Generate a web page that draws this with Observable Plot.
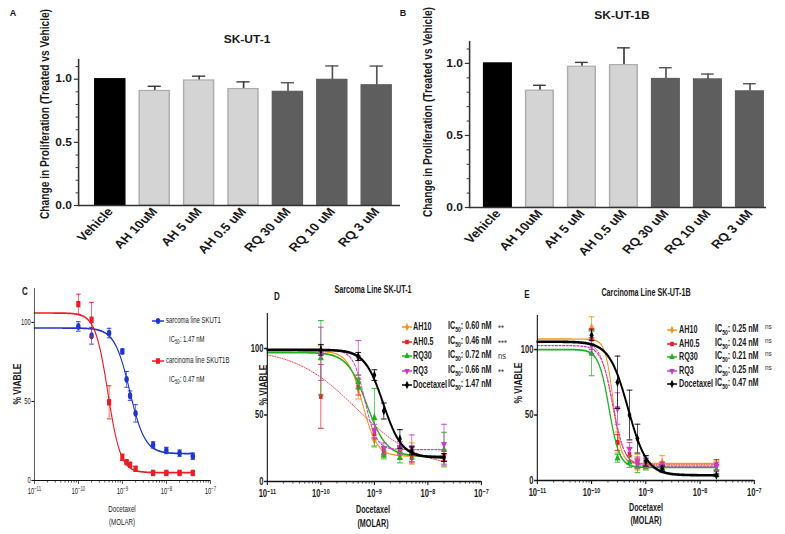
<!DOCTYPE html>
<html><head><meta charset="utf-8">
<script src="https://cdn.jsdelivr.net/npm/d3@7"></script>
<script src="https://cdn.jsdelivr.net/npm/@observablehq/plot@0.6"></script>
<style>
body{margin:0;background:#fff;}
#fig{position:relative;width:785px;height:534px;overflow:hidden;font-family:"Liberation Sans",Arial,sans-serif;background:#fff;color:#1a1a1a}
.t{position:absolute;white-space:nowrap;line-height:1;}
.sub{font-size:0.7em;vertical-align:-0.35em;}
.sup{font-size:0.75em;vertical-align:0.45em;}
</style></head><body><div id="fig"></div><script>
// ---------------- DATA ----------------
const barCategories = ["Vehicle","AH 10uM","AH 5 uM","AH 0.5 uM","RQ 30 uM","RQ 10 uM","RQ 3 uM"];
const barGroups = ["Vehicle","AH","AH","AH","RQ","RQ","RQ"];
const skut1Mean = [1.0, 0.907, 0.99, 0.922, 0.90, 0.995, 0.952];
const skut1Err  = [0, 0.037, 0.034, 0.057, 0.072, 0.11, 0.152];
const skut1bMean = [1.0, 0.811, 0.977, 0.988, 0.892, 0.889, 0.806];
const skut1bErr  = [0, 0.037, 0.03, 0.12, 0.078, 0.037, 0.053];
const barYTicks = [0, 0.5, 1.0];
const barYMinorTicks = [0.1, 0.2, 0.3, 0.4, 0.6, 0.7, 0.8, 0.9, 1.1];

const decadeTicks = [1e-11, 1e-10, 1e-9, 1e-8, 1e-7];
const minorMultipliers = [2, 3, 4, 5, 6, 7, 8, 9];
const doseYTicks = [0, 50, 100];

// Panel C
const cDoses = [1e-10, 2e-10, 5e-10, 1e-9, 1.25e-9, 1.5e-9, 2e-9, 5e-9, 1e-8, 2e-8, 4e-8];
const cSarcomaMean = [97.5, 91.6, 93.3, 81.7, 64, 53.7, 42.5, 22.5, 19, 17.3, 15.4];
const cSarcomaErr  = [3, 5.3, 3, 1.5, 5, 3, 5.5, 2, 2, 2, 2];
const cCarcinomaMean = [111.6, 101.7, 49.5, 14.7, 11.6, 10, 7.4, 4.8, 4.8, 4.8, 4.8];
const cCarcinomaErr  = [6.3, 11, 10.5, 2, 1, 1, 1.5, 1, 1, 1, 1];
const cSarcomaFit = {top: 96.5, bottom: 17, ic50: 1.47e-9, hill: 2.5};
const cCarcinomaFit = {top: 106, bottom: 5, ic50: 0.47e-9, hill: 3};

// Panel D (Sarcoma SK-UT-1)
const dDoses = [1e-10, 5e-10, 1e-9, 1.5e-9, 3e-9, 5e-9, 2e-8];
const dAH10Mean = [97, 70, 31, 21, 20, 21, 16];
const dAH10Err  = [5, 8, 4, 3, 3, 8, 4];
const dAH05Mean = [64, 71, 36, 23, 24, 18, 19.6];
const dAH05Err  = [24, 6, 4, 3, 3, 4, 4];
const dRQ30Mean = [93, 75, 48, 20, 18, 22, 24];
const dRQ30Err  = [28, 5, 22, 3, 4, 5, 13];
const dRQ3Mean  = [96, 93, 38, 25, 25, 25, 28];
const dRQ3Err   = [20, 13, 5, 4, 5, 10, 15];
const dDocMean  = [99, 94, 80, 53, 32, 23, 18];
const dDocErr   = [4, 3, 4, 6, 7, 3, 3];
const dFits = {
  AH10: {top: 98, bottom: 19, ic50: 0.60e-9, hill: 3.2},
  AH05: {top: 100, bottom: 10, ic50: 0.46e-9, hill: 0.75},
  RQ30: {top: 97, bottom: 19, ic50: 0.72e-9, hill: 2.4},
  RQ3:  {top: 99, bottom: 24, ic50: 0.66e-9, hill: 4},
  Doc:  {top: 99, bottom: 18, ic50: 1.47e-9, hill: 2.5}
};
const dIC50 = ["0.60", "0.46", "0.72", "0.66", "1.47"];
const dSig = ["**", "***", "ns", "**", ""];

// Panel E (Carcinoma SK-UT-1B)
const eDoses = [1e-10, 3e-10, 5e-10, 7e-10, 1e-9, 2e-9, 2e-8];
const eAH10Mean = [117, 29, 19, 14, 15, 14, 11];
const eAH10Err  = [8, 8, 6, 6, 4, 5, 4];
const eAH05Mean = [108, 29, 20, 13, 13, 11, 12];
const eAH05Err  = [8, 6, 5, 4, 4, 3, 4];
const eRQ30Mean = [97, 17, 14, 11, 11, 9, 8];
const eRQ30Err  = [17, 3, 4, 5, 3, 3, 4];
const eRQ3Mean  = [103, 55, 24, 14, 14, 11, 11];
const eRQ3Err   = [6, 12, 5, 4, 3, 3, 3];
const eDocMean  = [111, 75, 50, 32, 15, 9, 4];
const eDocErr   = [4, 20, 19, 11, 4, 2, 1];
const eFits = {
  AH10: {top: 108, bottom: 13, ic50: 0.25e-9, hill: 6},
  AH05: {top: 106, bottom: 12, ic50: 0.24e-9, hill: 4},
  RQ30: {top: 100, bottom: 10, ic50: 0.21e-9, hill: 4.5},
  RQ3:  {top: 103, bottom: 11, ic50: 0.25e-9, hill: 4},
  Doc:  {top: 106, bottom: 4, ic50: 0.47e-9, hill: 2.5}
};
const eIC50 = ["0.25", "0.24", "0.21", "0.25", "0.47"];
const eSig = ["ns", "ns", "ns", "ns", ""];

const seriesNames = ["AH10", "AH0.5", "RQ30", "RQ3", "Docetaxel"];

// ---------------- HELPERS ----------------
const fig = document.getElementById("fig");
const FONT = "Liberation Sans, Arial, sans-serif";
const triangleDown = {draw(ctx, size) {
  const h = Math.sqrt(size / (3 * Math.sqrt(3)));
  ctx.moveTo(0, 2 * h); ctx.lineTo(Math.sqrt(3) * h, -h); ctx.lineTo(-Math.sqrt(3) * h, -h); ctx.closePath();
}};
const capSymbol = {draw(ctx, size) {
  const w = Math.sqrt(size / Math.PI);
  ctx.moveTo(-w, 0); ctx.lineTo(w, 0);
}};
const colors = {orange: "#f7941d", red: "#ec1c24", green: "#22b022", purple: "#c83cc8", black: "#000000", blue: "#1f35d0"};

const powFmt = d => { const e = Math.round(Math.log10(d)); return "10^" + (e < 0 ? "\u2212" : "") + Math.abs(e); };
const minorTicks = decadeTicks.slice(0, -1).flatMap(d => minorMultipliers.map(m => d * m));

function richify(svg) {
  d3.select(svg).selectAll("text").each(function() {
    const t = this.textContent;
    if (!t || !t.includes("^")) return;
    const [base, sup] = t.split("^");
    const sel = d3.select(this);
    sel.text(null);
    sel.append("tspan").text(base);
    sel.append("tspan").attr("dy", "-0.45em").attr("font-size", "0.72em").text(sup);
  });
}

function place(svg, left, top, w, h) {
  svg.setAttribute("preserveAspectRatio", "none");
  svg.style.position = "absolute";
  svg.style.left = left + "px";
  svg.style.top = top + "px";
  svg.style.width = w + "px";
  svg.style.height = h + "px";
  svg.style.maxWidth = "none";
  svg.style.overflow = "visible";
  fig.appendChild(svg);
}

function addText(html, x, y, o = {}) {
  const el = document.createElement("div");
  el.className = "t";
  el.innerHTML = html;
  el.style.fontSize = (o.size || 10) + "px";
  el.style.fontWeight = o.weight || "normal";
  el.style.color = o.color || "#1a1a1a";
  el.style.left = x + "px"; el.style.top = y + "px";
  const sx = o.sx || 1, rot = o.rotate || 0, anchor = o.anchor || "middle";
  const tx = anchor === "start" ? "0" : anchor === "end" ? "-100%" : "-50%";
  el.style.transformOrigin = anchor === "start" ? "0 50%" : anchor === "end" ? "100% 50%" : "50% 50%";
  el.style.transform = `translate(${tx}, -50%) scale(${sx}, 1) rotate(${rot}deg)`;
  fig.appendChild(el);
}

function legendSymbol(x, y, color, symbolType, o = {}) {
  const L = o.len || 12, size = o.size || 22, sx = o.sx || 1;
  const svg = d3.create("svg").attr("width", L + 4).attr("height", 12)
    .style("position", "absolute").style("left", (x - (L + 4) / 2) + "px").style("top", (y - 6) + "px")
    .style("overflow", "visible");
  svg.append("line").attr("x1", 2).attr("x2", L + 2).attr("y1", 6).attr("y2", 6)
    .attr("stroke", color).attr("stroke-width", o.lw || 1.5);
  svg.append("path").attr("d", d3.symbol(symbolType, size)())
    .attr("transform", `translate(${(L + 4) / 2},6) scale(${sx},1)`).attr("fill", color);
  fig.appendChild(svg.node());
}

// ---------------- BAR PANELS ----------------
function barPanel(cfg) {
  const {left, top, dispW, dispH, s, marginLeft, marginRight, marginTop, marginBottom, xRange, yMax, means, errs, capInset} = cfg;
  const natW = dispW / s;
  const data = barCategories.map((c, i) => ({cat: c, group: barGroups[i], mean: means[i], err: errs[i]}));
  const styles = {
    Vehicle: {fill: "#000000", stroke: "#000000", err: "#000000"},
    AH: {fill: "#d4d4d4", stroke: "#acacac", err: "#3c3c3c"},
    RQ: {fill: "#5e5e5e", stroke: "#5e5e5e", err: "#555555"}
  };
  const marks = [];
  for (const g of ["Vehicle", "AH", "RQ"]) {
    const sub = data.filter(d => d.group === g);
    const st = styles[g];
    const withErr = sub.filter(d => d.err > 0);
    marks.push(Plot.ruleX(withErr, {x: "cat", y1: "mean", y2: d => d.mean + d.err, stroke: st.err, strokeWidth: 1.4}));
    marks.push(Plot.tickY(withErr, {x: "cat", y: d => d.mean + d.err, stroke: st.err, strokeWidth: 1.4, insetLeft: capInset, insetRight: capInset}));
    marks.push(Plot.barY(sub, {x: "cat", y: "mean", fill: st.fill, stroke: st.stroke, strokeWidth: 1.2}));
  }
  marks.push(
    Plot.axisY({ticks: barYTicks, tickFormat: ".1f", tickSize: 3.5, tickPadding: 2, fontSize: 10, fontWeight: "bold", label: null, stroke: "#333", strokeWidth: 1.2}),
    Plot.axisY({ticks: barYMinorTicks, tickFormat: () => "", tickSize: 2, label: null, stroke: "#333", strokeWidth: 1}),
    Plot.axisX({tickRotate: -50, tickSize: 0, tickPadding: 4, fontSize: 11.5, fontWeight: "bold", label: null}),
    Plot.frame({anchor: "left", stroke: "#333", strokeWidth: 1.3}),
    Plot.ruleY([0], {stroke: "#333", strokeWidth: 1.4})
  );
  const svg = Plot.plot({
    width: natW, height: dispH, marginLeft, marginRight, marginTop, marginBottom,
    style: {fontFamily: FONT, background: "transparent", color: "#1a1a1a", overflow: "visible"},
    x: {domain: barCategories, range: xRange, paddingInner: 1 / 3, paddingOuter: 1 / 6},
    y: {domain: [0, yMax]},
    marks
  });
  place(svg, left, top, dispW, dispH);
}

barPanel({left: 0, top: 0, dispW: 400, dispH: 280, s: 1.2, marginLeft: 65, marginRight: 0, marginTop: 59, marginBottom: 75,
  xRange: [71.25, 333.75], yMax: 1.156, means: skut1Mean, errs: skut1Err, capInset: 7});
barPanel({left: 390, top: 0, dispW: 395, dispH: 280, s: 1.2, marginLeft: 65.83, marginRight: 15.83, marginTop: 41, marginBottom: 73,
  xRange: [71.67, 316.67], yMax: 1.152, means: skut1bMean, errs: skut1bErr, capInset: 6.2});

// ---------------- DOSE-RESPONSE PANELS ----------------
function curveFor(p, xEnd) {
  const lo = -11, hi = Math.log10(xEnd), n = 200;
  return d3.range(n + 1).map(i => {
    const x = Math.pow(10, lo + (hi - lo) * i / n);
    return {x, y: p.bottom + (p.top - p.bottom) / (1 + Math.pow(x / p.ic50, p.hill))};
  });
}

function dosePanel(cfg) {
  const {left, top, dispW, dispH, c, marginLeft, marginRight, marginTop, marginBottom, yMax, doses, series, xEnd,
         tickSize, tickWeight, axisWidth, capR, xPad} = cfg;
  const natW = dispW / c;
  const marks = [];
  for (const s of series) {
    const pts = s.mean.map((m, i) => ({dose: doses[i], mean: m, err: s.err[i]}));
    marks.push(Plot.line(curveFor(s.fit, xEnd), {x: "x", y: "y", stroke: s.color, strokeWidth: s.lw, strokeDasharray: s.dash}));
    marks.push(Plot.ruleX(pts, {x: "dose", y1: d => d.mean - d.err, y2: d => d.mean + d.err, stroke: s.color, strokeWidth: 1.2, strokeOpacity: 0.8}));
    marks.push(Plot.dot(pts, {x: "dose", y: d => d.mean + d.err, symbol: capSymbol, r: capR, stroke: s.color, fill: "none", strokeWidth: 1.1, strokeOpacity: 0.85}));
    marks.push(Plot.dot(pts, {x: "dose", y: d => d.mean - d.err, symbol: capSymbol, r: capR, stroke: s.color, fill: "none", strokeWidth: 1.1, strokeOpacity: 0.85}));
    marks.push(Plot.dot(pts, {x: "dose", y: "mean", symbol: s.symbol, r: s.r, fill: s.color, stroke: "none"}));
  }
  marks.push(
    Plot.axisX({ticks: decadeTicks, tickFormat: powFmt, tickSize: 4, tickPadding: xPad, fontSize: tickSize, fontWeight: tickWeight, label: null, strokeWidth: axisWidth}),
    Plot.axisX({ticks: minorTicks, tickFormat: () => "", tickSize: 2.5, label: null, strokeWidth: 0.9}),
    Plot.axisY({ticks: doseYTicks, tickSize: 4, tickPadding: 1.5, fontSize: tickSize, fontWeight: tickWeight, label: null, strokeWidth: axisWidth}),
    Plot.ruleX([1e-11], {stroke: "#111", strokeWidth: axisWidth}),
    Plot.ruleY([0], {stroke: "#111", strokeWidth: axisWidth})
  );
  const svg = Plot.plot({
    width: natW, height: dispH, marginLeft, marginRight, marginTop, marginBottom,
    style: {fontFamily: FONT, background: "transparent", color: "#1a1a1a", overflow: "visible"},
    x: {type: "log", domain: [1e-11, 1e-7]},
    y: {domain: [0, yMax]},
    marks
  });
  richify(svg);
  place(svg, left, top, dispW, dispH);
}

dosePanel({left: 0, top: 280, dispW: 250, dispH: 254, c: 0.65, marginLeft: 52.3, marginRight: 61.5, marginTop: 8, marginBottom: 54,
  yMax: 121.5, doses: cDoses, xEnd: 4e-8, tickSize: 9, tickWeight: "normal", axisWidth: 1.1, capR: 3.5, xPad: 3,
  series: [
    {mean: cSarcomaMean, err: cSarcomaErr, fit: cSarcomaFit, color: colors.blue, symbol: "circle", r: 3.4, lw: 1.7},
    {mean: cCarcinomaMean, err: cCarcinomaErr, fit: cCarcinomaFit, color: colors.red, symbol: "square", r: 3.6, lw: 1.7}
  ]});

function doseSeries(means, errs, fits) {
  return [
    {mean: means[0], err: errs[0], fit: fits.AH10, color: colors.orange, symbol: "diamond", r: 2.8, lw: 1.4},
    {mean: means[1], err: errs[1], fit: fits.AH05, color: colors.red, symbol: "square", r: 2.8, lw: 1, dash: "1.5,2"},
    {mean: means[2], err: errs[2], fit: fits.RQ30, color: colors.green, symbol: "triangle", r: 3, lw: 1.8},
    {mean: means[3], err: errs[3], fit: fits.RQ3, color: colors.purple, symbol: triangleDown, r: 3, lw: 1.3, dash: "3,2"},
    {mean: means[4], err: errs[4], fit: fits.Doc, color: colors.black, symbol: "diamond", r: 2.8, lw: 2.6}
  ];
}

dosePanel({left: 235, top: 280, dispW: 285, dispH: 254, c: 0.72, marginLeft: 44.4, marginRight: 54.1, marginTop: 33, marginBottom: 53,
  yMax: 126.3, doses: dDoses, xEnd: 2e-8, tickSize: 10.5, tickWeight: "bold", axisWidth: 1.5, capR: 4, xPad: 4.5,
  series: doseSeries([dAH10Mean, dAH05Mean, dRQ30Mean, dRQ3Mean, dDocMean], [dAH10Err, dAH05Err, dRQ30Err, dRQ3Err, dDocErr], dFits)});

dosePanel({left: 505, top: 280, dispW: 280, dispH: 254, c: 0.72, marginLeft: 44.4, marginRight: 43.1, marginTop: 35, marginBottom: 54,
  yMax: 126, doses: eDoses, xEnd: 2e-8, tickSize: 10.5, tickWeight: "bold", axisWidth: 1.5, capR: 4, xPad: 4.5,
  series: doseSeries([eAH10Mean, eAH05Mean, eRQ30Mean, eRQ3Mean, eDocMean], [eAH10Err, eAH05Err, eRQ30Err, eRQ3Err, eDocErr], eFits)});

// ---------------- TEXT: letters, titles, axis labels ----------------
addText("A", 13, 13, {size: 9, weight: "bold"});
addText("B", 403, 13, {size: 9, weight: "bold"});
addText("C", 25, 292, {size: 10, weight: "bold", sx: 0.8});
addText("D", 277, 297, {size: 10, weight: "bold", sx: 0.8});
addText("E", 527, 295, {size: 10, weight: "bold", sx: 0.8});

addText("SK-UT-1", 247, 40, {size: 10, weight: "bold", sx: 1.2});
addText("SK-UT-1B", 622, 16, {size: 10, weight: "bold", sx: 1.2});
addText("Change in Proliferation (Treated vs Vehicle)", 45, 114, {size: 10.2, weight: "bold", rotate: -90, sx: 1.25});
addText("Change in Proliferation (Treated vs Vehicle)", 428, 112, {size: 10.2, weight: "bold", rotate: -90, sx: 1.25});

addText("Sarcoma Line SK-UT-1", 373, 290, {size: 10, weight: "bold", sx: 0.72});
addText("Carcinoma Line SK-UT-1B", 646, 293, {size: 10, weight: "bold", sx: 0.72});

addText("% VIABLE", 17, 384, {size: 8.5, weight: "bold", rotate: -90, sx: 1.3});
addText("% VIABLE", 263, 385, {size: 8.5, weight: "bold", rotate: -90, sx: 1.3});
addText("% VIABLE", 518, 383, {size: 8.5, weight: "bold", rotate: -90, sx: 1.3});

addText("Docetaxel", 122, 509, {size: 9.5, sx: 0.65});
addText("(MOLAR)", 122, 522, {size: 9.5, sx: 0.65});
addText("Docetaxel", 373, 510, {size: 10, weight: "bold", sx: 0.72});
addText("(MOLAR)", 373, 524, {size: 10, weight: "bold", sx: 0.72});
addText("Docetaxel", 646, 508, {size: 10, weight: "bold", sx: 0.72});
addText("(MOLAR)", 646, 521, {size: 10, weight: "bold", sx: 0.72});

// ---------------- LEGENDS ----------------
// C
legendSymbol(158, 321, colors.blue, d3.symbolCircle, {len: 12, size: 26, sx: 0.75});
addText("sarcoma line SKUT1", 166, 321, {size: 9.2, anchor: "start", sx: 0.65});
addText("IC<span class='sub'>50</span>: 1.47 nM", 169, 340, {size: 9.2, anchor: "start", sx: 0.65});
legendSymbol(158, 361, colors.red, d3.symbolSquare, {len: 12, size: 30, sx: 0.75});
addText("carcinoma line SKUT1B", 166, 361, {size: 9.2, anchor: "start", sx: 0.65});
addText("IC<span class='sub'>50</span>: 0.47 nM", 169, 380, {size: 9.2, anchor: "start", sx: 0.65});

const legSymbols = [d3.symbolDiamond, d3.symbolSquare, d3.symbolTriangle, triangleDown, d3.symbolDiamond];
const legColors = [colors.orange, colors.red, colors.green, colors.purple, colors.black];
// D
const dRows = [327, 341.5, 356, 370.5, 385];
seriesNames.forEach((n, i) => {
  legendSymbol(407, dRows[i], legColors[i], legSymbols[i], {len: 10, size: 20, sx: 0.8});
  addText(n, 413, dRows[i], {size: 10, weight: "bold", anchor: "start", sx: 0.72});
  addText(`IC<span class='sub'>50</span>: ${dIC50[i]} nM`, 448, dRows[i], {size: 10, weight: "bold", anchor: "start", sx: 0.72});
  if (dSig[i]) addText(dSig[i], 498, dRows[i] + (dSig[i] === "ns" ? 0 : 1), {size: 9.5, anchor: "start", sx: 0.8, color: "#333"});
});
// E
const eRows = [330, 343.5, 357, 370.5, 384];
seriesNames.forEach((n, i) => {
  legendSymbol(672, eRows[i], legColors[i], legSymbols[i], {len: 10, size: 20, sx: 0.8});
  addText(n, 679, eRows[i], {size: 10, weight: "bold", anchor: "start", sx: 0.72});
  addText(`IC<span class='sub'>50</span>: ${eIC50[i]} nM`, 715, eRows[i], {size: 10, weight: "bold", anchor: "start", sx: 0.72});
  if (eSig[i]) addText(eSig[i], 765, eRows[i] - 3, {size: 8, anchor: "start", sx: 0.8, color: "#333"});
});
</script></body></html>
